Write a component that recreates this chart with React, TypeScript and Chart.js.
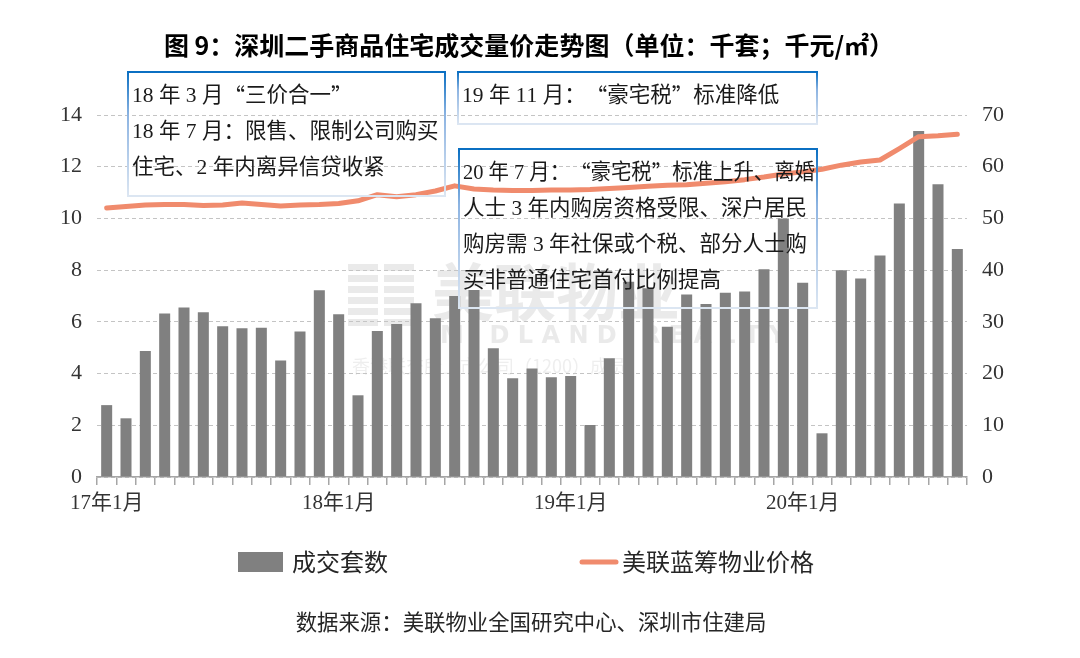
import React, { useEffect, useRef } from "react";
import { Chart, registerables } from "chart.js";

Chart.register(...registerables);

const months = [
  "17-01","17-02","17-03","17-04","17-05","17-06","17-07","17-08","17-09","17-10","17-11","17-12",
  "18-01","18-02","18-03","18-04","18-05","18-06","18-07","18-08","18-09","18-10","18-11","18-12",
  "19-01","19-02","19-03","19-04","19-05","19-06","19-07","19-08","19-09","19-10","19-11","19-12",
  "20-01","20-02","20-03","20-04","20-05","20-06","20-07","20-08","20-09",
];

const axisLabels: Record<string, string> = {
  "17-01": "17年1月",
  "18-01": "18年1月",
  "19-01": "19年1月",
  "20-01": "20年1月",
};

// 成交套数 (千套)
const volume = [
  2.78, 2.27, 4.87, 6.32, 6.56, 6.37, 5.83, 5.75, 5.77, 4.51, 5.63, 7.22,
  6.29, 3.16, 5.65, 5.92, 6.72, 6.14, 7.0, 7.23, 4.98, 3.82, 4.2, 3.86,
  3.91, 2.01, 4.59, 7.55, 7.3, 5.81, 7.06, 6.69, 7.13, 7.17, 8.03, 10.0,
  7.51, 1.69, 8.0, 7.68, 8.57, 10.58, 13.38, 11.32, 8.82,
];

// 美联蓝筹物业价格 (千元/㎡)
const price = [
  52.0, 52.3, 52.6, 52.7, 52.7, 52.5, 52.6, 53.0, 52.7, 52.4, 52.6, 52.7,
  52.9, 53.4, 54.6, 54.2, 54.6, 55.3, 56.3, 55.7, 55.5, 55.4, 55.4, 55.5,
  55.5, 55.6, 55.8, 56.0, 56.2, 56.4, 56.5, 56.8, 57.1, 57.5, 58.0, 58.6,
  59.0, 59.5, 60.3, 60.9, 61.3, 63.5, 65.8, 66.0, 66.3,
];

const titleText = "图 9：深圳二手商品住宅成交量价走势图（单位：千套；千元/㎡）";
const legendBar = "成交套数";
const legendLine = "美联蓝筹物业价格";
const sourceText = "数据来源：美联物业全国研究中心、深圳市住建局";

const note1 = ["18 年 3 月“三价合一”", "18 年 7 月：限售、限制公司购买", "住宅、2 年内离异信贷收紧"];
const note2 = ["19 年 11 月：“豪宅税”标准降低"];
const note3 = [
  "20 年 7 月：“豪宅税”标准上升、离婚",
  "人士 3 年内购房资格受限、深户居民",
  "购房需 3 年社保或个税、部分人士购",
  "买非普通住宅首付比例提高",
];

const BAR_COLOR = "#808080";
const LINE_COLOR = "#F08B6D";
const SERIF = '"Liberation Serif", "Noto Sans CJK SC"';
const CJK = '"Noto Sans CJK SC"';

function fontFor(ch: string, size: number) {
  const isQuote = ch === "“" || ch === "”";
  return isQuote ? `${size}px ${CJK}` : `${size}px ${SERIF}`;
}

function drawMixed(ctx: CanvasRenderingContext2D, text: string, x: number, y: number, size: number, maxW: number) {
  let total = 0;
  for (const ch of text) {
    ctx.font = fontFor(ch, size);
    total += ctx.measureText(ch).width;
  }
  const k = total > maxW ? maxW / total : 1;
  ctx.save();
  ctx.translate(x, y);
  ctx.scale(k, 1);
  let cx = 0;
  for (const ch of text) {
    ctx.font = fontFor(ch, size);
    ctx.fillText(ch, cx, 0);
    cx += ctx.measureText(ch).width;
  }
  ctx.restore();
}

function drawBox(ctx: CanvasRenderingContext2D, x: number, y: number, w: number, h: number, lines: string[], firstY: number, step: number) {
  const g = ctx.createLinearGradient(0, y, 0, y + h);
  g.addColorStop(0, "#0A6FC2");
  g.addColorStop(0.35, "#8DB4E2");
  g.addColorStop(1, "#DCE6F2");
  ctx.save();
  ctx.strokeStyle = g;
  ctx.lineWidth = 2;
  ctx.strokeRect(x, y, w, h);
  ctx.fillStyle = "#1a1a1a";
  ctx.textAlign = "left";
  ctx.textBaseline = "middle";
  lines.forEach((t, i) => drawMixed(ctx, t, x + 4, firstY + i * step, 21.5, w - 6));
  ctx.restore();
}

const overlayPlugin = {
  id: "overlay",
  beforeDatasetsDraw(chart: any) {
    const ctx: CanvasRenderingContext2D = chart.ctx;
    ctx.save();
    ctx.fillStyle = "rgba(200,200,200,0.38)";
    for (let i = 0; i < 6; i++) {
      ctx.fillRect(348, 264 + i * 11, 30, 7);
      ctx.fillRect(384, 264 + i * 11, 30, 7);
    }
    ctx.font = `bold 62px ${CJK}`;
    ctx.textBaseline = "middle";
    ctx.textAlign = "left";
    ctx.fillText("美联物业", 432, 292);
    ctx.font = `bold 24px "DejaVu Sans"`;
    ctx.fillText("M I D L A N D   R E A L T Y", 440, 337);
    ctx.fillStyle = "rgba(200,200,200,0.3)";
    ctx.font = `18px ${CJK}`;
    ctx.fillText("香港联交所上市公司（1200）成员", 352, 366);
    ctx.restore();
  },
  afterDraw(chart: any) {
    const ctx: CanvasRenderingContext2D = chart.ctx;
    ctx.save();
    ctx.fillStyle = "#000";
    ctx.font = `bold 25px ${CJK}`;
    ctx.textAlign = "center";
    ctx.textBaseline = "middle";
    ctx.fillText(titleText, 529, 45);

    drawBox(ctx, 128, 72, 317, 124, note1, 96, 36);
    drawBox(ctx, 458, 72, 359, 52, note2, 96, 36);
    drawBox(ctx, 459, 149, 358, 159, note3, 173, 36);

    ctx.fillStyle = BAR_COLOR;
    ctx.fillRect(238, 552, 45, 20);
    ctx.fillStyle = "#262626";
    ctx.font = `24px ${CJK}`;
    ctx.textAlign = "left";
    ctx.textBaseline = "middle";
    ctx.fillText(legendBar, 292, 562);
    ctx.strokeStyle = LINE_COLOR;
    ctx.lineWidth = 5;
    ctx.lineCap = "round";
    ctx.beginPath();
    ctx.moveTo(582, 562);
    ctx.lineTo(616, 562);
    ctx.stroke();
    ctx.fillText(legendLine, 622, 562);

    ctx.font = `21.4px ${CJK}`;
    ctx.textAlign = "center";
    ctx.fillStyle = "#262626";
    ctx.fillText(sourceText, 531, 622);
    ctx.restore();
  },
};

export default function App() {
  const ref = useRef<HTMLCanvasElement>(null);
  useEffect(() => {
    document.body.style.margin = "0";
    const canvas = ref.current;
    if (!canvas) return;
    const chart = new Chart(canvas, {
      type: "bar",
      data: {
        labels: months,
        datasets: [
          {
            type: "line",
            label: legendLine,
            data: price,
            yAxisID: "y1",
            borderColor: LINE_COLOR,
            backgroundColor: LINE_COLOR,
            borderWidth: 5,
            pointRadius: 0,
            tension: 0,
            borderCapStyle: "round",
            borderJoinStyle: "round",
            order: 0,
          } as any,
          {
            type: "bar",
            label: legendBar,
            data: volume,
            yAxisID: "y",
            backgroundColor: BAR_COLOR,
            categoryPercentage: 1,
            barPercentage: 0.57,
            order: 1,
          },
        ],
      },
      options: {
        responsive: false,
        animation: false,
        devicePixelRatio: 1,
        layout: { padding: { top: 115, left: 0, right: 0, bottom: 0 } },
        plugins: {
          legend: { display: false },
          tooltip: { enabled: false },
          title: { display: false },
        },
        scales: {
          x: {
            grid: {
              offset: true,
              drawOnChartArea: false,
              drawTicks: true,
              tickLength: 8,
              color: "#A6A6A6",
              lineWidth: 1.5,
            },
            border: { display: true, color: "#A6A6A6", width: 1.5 },
            ticks: {
              autoSkip: false,
              maxRotation: 0,
              minRotation: 0,
              padding: 6,
              color: "#333",
              font: { family: SERIF, size: 21 },
              callback: (_v: any, i: number) => axisLabels[months[i]] ?? "",
            },
            afterFit: (s: any) => {
              s.height = 181;
            },
          },
          y: {
            position: "left",
            min: 0,
            max: 14,
            ticks: { stepSize: 2, padding: 15, color: "#333", font: { family: SERIF, size: 22 } },
            grid: { color: "#C4C4C4", lineWidth: 1, drawTicks: false },
            border: { display: false, dash: [4, 3] },
            afterFit: (s: any) => {
              s.width = 97;
            },
          },
          y1: {
            position: "right",
            min: 0,
            max: 70,
            ticks: { stepSize: 10, padding: 15, color: "#333", font: { family: SERIF, size: 22 } },
            grid: { drawOnChartArea: false, drawTicks: false },
            border: { display: false },
            afterFit: (s: any) => {
              s.width = 113;
            },
          },
        },
      } as any,
      plugins: [overlayPlugin],
    });
    return () => chart.destroy();
  }, []);
  return (
    <div style={{ position: "absolute", left: 0, top: 0, width: 1080, height: 658, background: "#fff" }}>
      <canvas ref={ref} width={1080} height={658} />
    </div>
  );
}
